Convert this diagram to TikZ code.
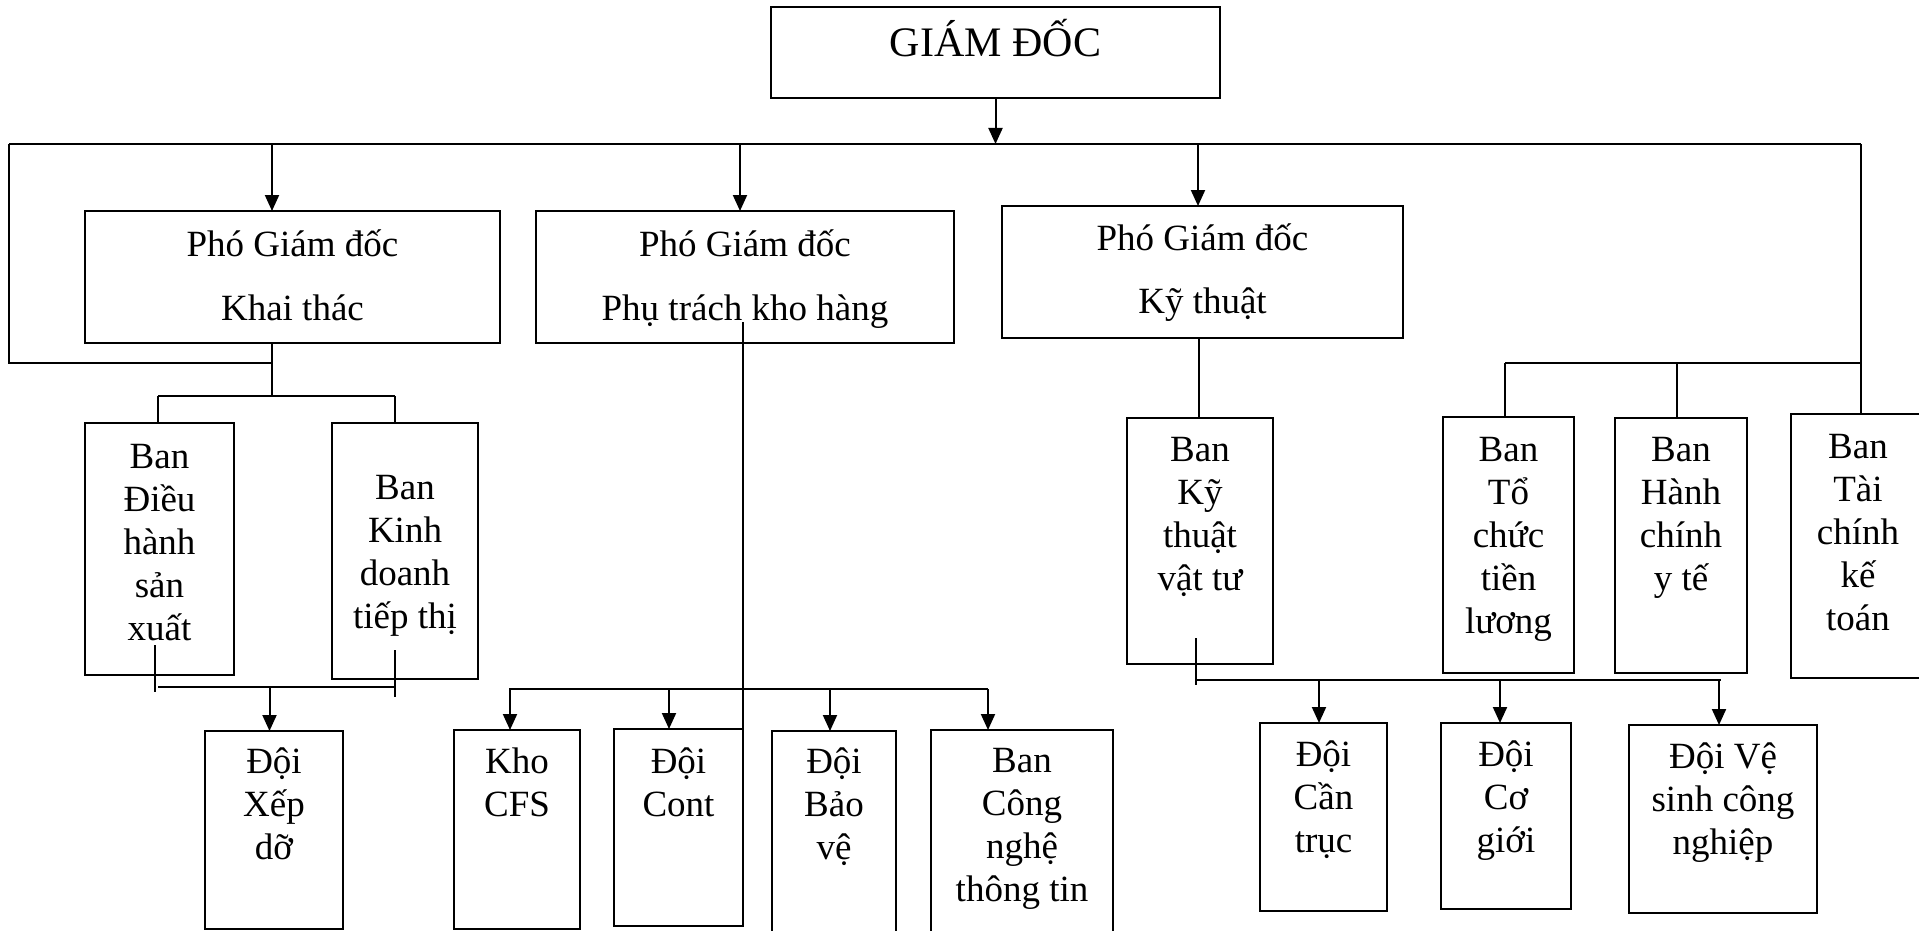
\documentclass[tikz,border=0pt]{standalone}
\usepackage{fontspec}
\setmainfont{Liberation Serif}
\usetikzlibrary{arrows.meta}
\newcommand\mytxtfont{\fontsize{37}{43}\selectfont\lineskiplimit-100pt\relax}
\tikzset{
  boxst/.style={draw, line width=2.2pt, inner sep=0pt, outer sep=0pt},
  txt/.style={inner sep=0pt, align=center, font={\mytxtfont}},
  ln/.style={line width=2pt},
  arr/.style={line width=2pt, -{Triangle[width=14pt,length=16pt]}}
}
\newcommand\bx[7]{%
  \pgfmathsetmacro\mybw{(#4)-(#2)}%
  \pgfmathsetmacro\mybh{(#5)-(#3)}%
  \pgfmathsetmacro\mycx{((#2)+(#4))/2}%
  \pgfmathsetmacro\mycy{((#3)+(#5))/2}%
  \pgfmathsetmacro\myty{(#6)-34}%
  \node[boxst, minimum width=\mybw pt, minimum height=\mybh pt] (#1) at (\mycx,\mycy) {};
  \node[txt, anchor=north] (#1t) at (\mycx,\myty) {\rule{0pt}{34pt}#7};}
\begin{document}
\begin{tikzpicture}[x=1pt,y=-1pt]
\useasboundingbox (0,0) rectangle (1919,931);
% top box
\node[boxst, minimum width=449pt, minimum height=91pt] (gd) at (995.5,52.5) {};
\node[inner sep=0pt, anchor=base, font=\fontsize{42}{48}\selectfont] (gdt) at (995.5,57) {GIÁM ĐỐC};
% deputy directors
\bx{p1}{85}{211}{500}{343}{256}{Phó Giám đốc\\[21pt]Khai thác}
\bx{p2}{536}{211}{954}{343}{256}{Phó Giám đốc\\[21pt]Phụ trách kho hàng}
\bx{p3}{1002}{206}{1403}{338}{250}{Phó Giám đốc\\[20pt]Kỹ thuật}
% boards
\bx{b1}{85}{423}{234}{675}{468}{Ban\\Điều\\hành\\sản\\xuất}
\bx{b2}{332}{423}{478}{679}{499.5}{Ban\\Kinh\\doanh\\tiếp thị}
\bx{ktvt}{1127}{418}{1273}{664}{461.5}{Ban\\Kỹ\\thuật\\vật tư}
\bx{tochuc}{1443}{417}{1574}{673}{461}{Ban\\Tổ\\chức\\tiền\\lương}
\bx{hc}{1615}{418}{1747}{673}{461.5}{Ban\\Hành\\chính\\y tế}
\bx{tc}{1791}{414}{1925}{678}{458}{Ban\\Tài\\chính\\kế\\toán}
% teams
\bx{xd}{205}{731}{343}{929}{773.5}{Đội\\Xếp\\dỡ}
\bx{kho}{454}{730}{580}{929}{773}{Kho\\CFS}
\bx{cont}{614}{729}{743}{926}{773}{Đội\\Cont}
\bx{bv}{772}{731}{896}{945}{773.5}{Đội\\Bảo\\vệ}
\bx{cn}{931}{730}{1113}{945}{772}{Ban\\Công\\nghệ\\thông tin}
\bx{ct}{1260}{723}{1387}{911}{766.5}{Đội\\Cần\\trục}
\bx{cg}{1441}{723}{1571}{909}{766.5}{Đội\\Cơ\\giới}
\bx{vs}{1629}{725}{1817}{913}{768}{Đội Vệ\\sinh công\\nghiệp}
% main bus
\coordinate (busL) at (9,144);
\coordinate (busR) at (1861,144);
\draw[ln] (busL) -- (busR);
\draw[arr] (gd.south) -- (gd.south |- busL);
\coordinate (a1) at (272,144);
\coordinate (a2) at (740,144);
\coordinate (a3) at (1198,144);
\draw[arr] (a1) -- (a1 |- p1.north);
\draw[arr] (a2) -- (a2 |- p2.north);
\draw[arr] (a3) -- (a3 |- p3.north);
% left loop and Khai thac branch
\coordinate (k1) at (272,363);
\coordinate (k2) at (272,396);
\draw[ln] (busL) -- (busL |- k1) -- (k1);
\draw[ln] (p1.south -| k1) -- (k2);
\coordinate (kl) at (158,396);
\coordinate (kr) at (395,396);
\draw[ln] (kl) -- (kr);
\draw[ln] (kl) -- (kl |- b1.north);
\draw[ln] (kr) -- (kr |- b2.north);
% lower Khai thac connector
\coordinate (s1a) at (155,645);
\coordinate (s1b) at (155,692);
\coordinate (s2a) at (395,650);
\coordinate (s2b) at (395,697);
\draw[ln] (s1a) -- (s1b);
\draw[ln] (s2a) -- (s2b);
\coordinate (hl) at (158,687);
\coordinate (hr) at (394,687);
\draw[ln] (hl) -- (hr);
\coordinate (xa) at (269.5,687);
\draw[arr] (xa) -- (xa |- xd.north);
% kho hang branch
\coordinate (v2) at (743,322);
\draw[ln] (v2) -- (v2 |- cont.north);
\coordinate (cl) at (510,689);
\coordinate (cr) at (988,689);
\draw[arr] (cr) -- (cl) -- (cl |- kho.north);
\draw[arr] (cr) -- (cr |- cn.north);
\coordinate (cc) at (669,689);
\coordinate (cb) at (830,689);
\draw[arr] (cc) -- (cc |- cont.north);
\draw[arr] (cb) -- (cb |- bv.north);
% ky thuat branch
\coordinate (v3) at (1199,338);
\draw[ln] (v3) -- (v3 |- ktvt.north);
\coordinate (t1) at (1196,638);
\coordinate (t2) at (1196,685);
\draw[ln] (t1) -- (t2);
\coordinate (tl) at (1196,680);
\coordinate (tr) at (1721,680);
\draw[ln] (tl) -- (tr);
\coordinate (d1) at (1319,680);
\coordinate (d2) at (1500,680);
\coordinate (d3) at (1719,680);
\draw[arr] (d1) -- (d1 |- ct.north);
\draw[arr] (d2) -- (d2 |- cg.north);
\draw[arr] (d3) -- (d3 |- vs.north);
% right branch
\coordinate (r1) at (1861,363);
\draw[ln] (busR) -- (busR |- tc.north);
\coordinate (rl) at (1505,363);
\coordinate (rm) at (1677,363);
\draw[ln] (rl) -- (r1);
\draw[ln] (rl) -- (rl |- tochuc.north);
\draw[ln] (rm) -- (rm |- hc.north);
\end{tikzpicture}
\end{document}
